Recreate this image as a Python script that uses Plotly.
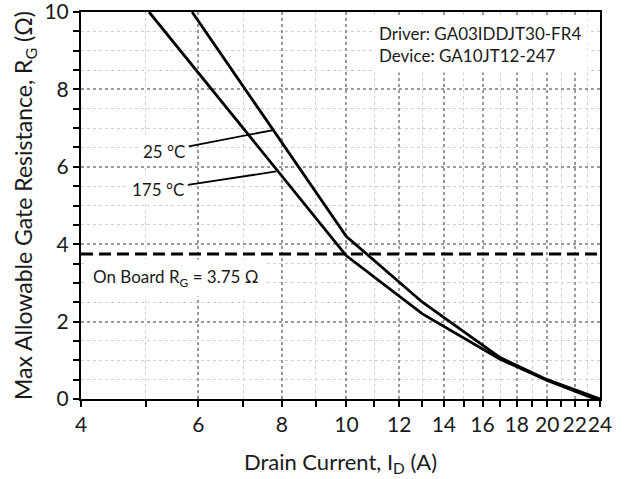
import math
import plotly.graph_objects as go

# Data
curr_25 = [5.87, 10, 13, 17, 20, 24]
rg_25 = [10, 4.2, 2.5, 1.07, 0.5, 0]
curr_175 = [5.06, 10, 13, 17, 20, 23.6]
rg_175 = [10, 3.7, 2.2, 1.03, 0.48, 0]
onboard_rg = 3.75
x_range = [4, 24]
x_major = [4, 6, 8, 10, 12, 14, 16, 18, 20, 22, 24]
x_minor = [5, 7, 9, 11, 13, 15, 17, 19, 21, 23]
y_major = [0, 2, 4, 6, 8, 10]
y_minor = [0.5, 1, 1.5, 2.5, 3, 3.5, 4.5, 5, 5.5, 6.5, 7, 7.5, 8.5, 9, 9.5]

FONT = "Lato"
TXT = "#1a1a1a"

fig = go.Figure()
fig.add_trace(go.Scatter(x=curr_25, y=rg_25, mode="lines",
                         line=dict(color="black", width=2.8), showlegend=False, name="25 °C"))
fig.add_trace(go.Scatter(x=curr_175, y=rg_175, mode="lines",
                         line=dict(color="black", width=2.8), showlegend=False, name="175 °C"))
fig.add_trace(go.Scatter(x=x_range, y=[onboard_rg, onboard_rg], mode="lines",
                         line=dict(color="black", width=3, dash="12px,6px"), showlegend=False))

lx0, lx1 = math.log10(x_range[0]), math.log10(x_range[1])

fig.update_layout(
    width=624, height=479,
    margin=dict(l=81, r=24, t=12, b=80, autoexpand=False),
    paper_bgcolor="white", plot_bgcolor="white",
    font=dict(family=FONT, color=TXT),
    xaxis=dict(
        type="log", range=[lx0, lx1], automargin=False,
        tickmode="array", tickvals=x_major, ticktext=[str(v) for v in x_major],
        tickangle=0, ticklabeloverflow="allow",
        ticks="outside", ticklen=6, tickwidth=1.5, tickcolor="black",
        tickfont=dict(size=21, family=FONT, color=TXT),
        showgrid=True, gridcolor="#9a9a9a", griddash="dot", gridwidth=1.5,
        showline=True, linecolor="black", linewidth=2, mirror=True,
        zeroline=False,
        minor=dict(tickmode="array", tickvals=x_minor, ticks="outside", ticklen=6,
                   tickwidth=1.5, tickcolor="black",
                   showgrid=True, gridcolor="#cfcfcf", griddash="dot", gridwidth=1),
        title=dict(text="Drain Current, I<sub>D</sub> (A)", font=dict(size=22, family=FONT, color=TXT),
                   standoff=19),
    ),
    yaxis=dict(
        range=[0, 10], automargin=False,
        tickmode="array", tickvals=y_major,
        tickangle=0, ticklabeloverflow="allow",
        ticks="outside", ticklen=6, tickwidth=1.5, tickcolor="black",
        tickfont=dict(size=21, family=FONT, color=TXT),
        showgrid=True, gridcolor="#9a9a9a", griddash="dot", gridwidth=1.5,
        showline=True, linecolor="black", linewidth=2, mirror=True,
        zeroline=False,
        minor=dict(tickmode="array", tickvals=y_minor, ticks="outside", ticklen=6,
                   tickwidth=1.5, tickcolor="black",
                   showgrid=True, gridcolor="#cfcfcf", griddash="dot", gridwidth=1),
        title=dict(text="Max Allowable Gate Resistance, R<sub>G</sub> (Ω)",
                   font=dict(size=23, family=FONT, color=TXT), standoff=5),
    ),
)

# Text boxes
fig.add_annotation(x=0.561, y=0.915, xref="paper", yref="paper", xanchor="left", yanchor="middle",
                   text="Driver: GA03IDDJT30-FR4<br>Device: GA10JT12-247", align="left",
                   showarrow=False, bgcolor="white", borderpad=6,
                   font=dict(size=17, family=FONT, color=TXT))
fig.add_annotation(x=0.0, y=onboard_rg, xref="paper", yref="y", xanchor="left", yanchor="middle",
                   text="On Board R<sub>G</sub> = 3.75 Ω", showarrow=False, bgcolor="white",
                   borderpad=6, xshift=5, yshift=-24,
                   font=dict(size=17, family=FONT, color=TXT))

# Curve labels with leader lines
fig.add_annotation(x=math.log10(7.77), y=6.95, xref="x", yref="y", text="25 °C",
                   showarrow=True, arrowhead=0, arrowwidth=1.8, arrowcolor="black",
                   ax=-109, ay=21, bgcolor="white", borderpad=3,
                   font=dict(size=17, family=FONT, color=TXT))
fig.add_annotation(x=math.log10(7.85), y=5.88, xref="x", yref="y", text="175 °C",
                   showarrow=True, arrowhead=0, arrowwidth=1.8, arrowcolor="black",
                   ax=-118, ay=18, bgcolor="white", borderpad=3,
                   font=dict(size=17, family=FONT, color=TXT))

fig.write_html("out.html", config={"displayModeBar": False},
               post_script="document.body.style.margin='0';")
